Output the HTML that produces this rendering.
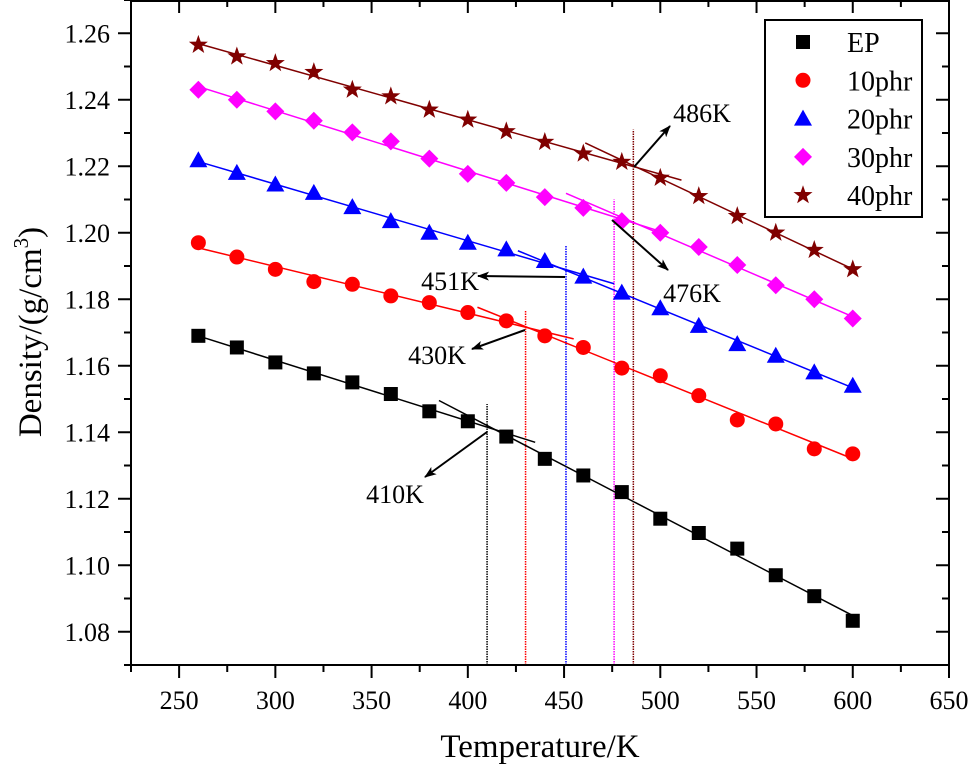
<!DOCTYPE html>
<html><head><meta charset="utf-8"><style>
html,body{margin:0;padding:0;background:#fff;}
svg{display:block;font-family:"Liberation Serif",serif;}
</style></head><body>
<svg id="chart" width="971" height="774" viewBox="0 0 971 774" xmlns="http://www.w3.org/2000/svg"></svg>
<script>
const temps = [260,280,300,320,340,360,380,400,420,440,460,480,500,520,540,560,580,600];
const seriesNames = ["EP","10phr","20phr","30phr","40phr"];
const epVals = [1.169,1.1655,1.161,1.1577,1.155,1.1515,1.1463,1.1433,1.1387,1.132,1.127,1.122,1.114,1.1097,1.105,1.097,1.0907,1.0833];
const phr10Vals = [1.197,1.1927,1.189,1.1853,1.1845,1.181,1.179,1.176,1.1735,1.169,1.1655,1.1593,1.157,1.151,1.1437,1.1425,1.135,1.1335];
const phr20Vals = [1.2218,1.218,1.2145,1.212,1.2077,1.2035,1.2,1.197,1.195,1.1915,1.1868,1.182,1.1773,1.172,1.1665,1.163,1.158,1.154];
const phr30Vals = [1.243,1.24,1.2365,1.2337,1.2302,1.2275,1.2223,1.2177,1.215,1.2107,1.2075,1.2035,1.2,1.1957,1.1903,1.1842,1.18,1.1742];
const phr40Vals = [1.2565,1.253,1.251,1.2483,1.243,1.241,1.237,1.234,1.2305,1.2273,1.2238,1.2213,1.2165,1.211,1.205,1.2,1.1948,1.189];
const tgVals = [410,430,451,476,486];
const tgLineTops = [1.1485,1.1765,1.196,1.21,1.231];
const xTicks = [250,300,350,400,450,500,550,600,650];
const yTicks = [1.08,1.10,1.12,1.14,1.16,1.18,1.20,1.22,1.24,1.26];

const NS="http://www.w3.org/2000/svg";
const svg=document.getElementById('chart');
const L=131,R=949,T=0,B=665,xmin=225,xmax=650,ymin=1.07,ymax=1.27;
const X=v=>L+(v-xmin)/(xmax-xmin)*(R-L);
const Y=v=>B-(v-ymin)/(ymax-ymin)*(B-T);
function el(tag,attrs,parent){const e=document.createElementNS(NS,tag);for(const k in attrs)e.setAttribute(k,attrs[k]);(parent||svg).appendChild(e);return e;}

const defs=el('defs',{});
const mk=el('marker',{id:'ah',markerWidth:'12',markerHeight:'9',refX:'11',refY:'4.5',orient:'auto',markerUnits:'userSpaceOnUse'},defs);
el('path',{d:'M0,0 L12,4.5 L0,9 L3,4.5 Z',fill:'#000'},mk);

const colors=["#000000","#ff0000","#0000ff","#ff00ff","#800000"];
const allVals=[epVals,phr10Vals,phr20Vals,phr30Vals,phr40Vals];

tgVals.forEach((t,i)=>{
  const ln=el('line',{x1:X(t),x2:X(t),y1:B,y2:Y(tgLineTops[i]),stroke:colors[i],'stroke-width':1.5,'stroke-dasharray':'1.5,1'});
  
  
});

function fit(xs,ys){const n=xs.length;let sx=0,sy=0,sxx=0,sxy=0;for(let i=0;i<n;i++){sx+=xs[i];sy+=ys[i];sxx+=xs[i]*xs[i];sxy+=xs[i]*ys[i];}const m=(n*sxy-sx*sy)/(n*sxx-sx*sx);return [m,(sy-m*sx)/n];}

function marker(type,cx,cy,c,g){
  if(type===0) return el('rect',{x:cx-7,y:cy-7,width:14,height:14,fill:c},g);
  if(type===1) return el('circle',{cx:cx,cy:cy,r:7.5,fill:c},g);
  if(type===2) return el('path',{d:`M${cx},${cy-9} L${cx+9},${cy+7} L${cx-9},${cy+7} Z`,fill:c},g);
  if(type===3) return el('path',{d:`M${cx},${cy-9} L${cx+9},${cy} L${cx},${cy+9} L${cx-9},${cy} Z`,fill:c},g);
  let d='';for(let k=0;k<10;k++){const r=k%2?4:10;const a=-Math.PI/2+k*Math.PI/5;d+=(k?'L':'M')+(cx+r*Math.cos(a)).toFixed(2)+','+(cy+r*Math.sin(a)).toFixed(2);}
  return el('path',{d:d+'Z',fill:c},g);
}

allVals.forEach((vals,i)=>{
  const g=el('g',{});
  
  
  const tg=tgVals[i];
  const lx=[],ly=[],hx=[],hy=[];
  temps.forEach((t,j)=>{if(t<tg){lx.push(t);ly.push(vals[j]);}else{hx.push(t);hy.push(vals[j]);}});
  const f1=fit(lx,ly),f2=fit(hx,hy);
  const a1=temps[0],b1=tg+25,a2=tg-25,b2=temps[temps.length-1];
  const l1=el('line',{x1:X(a1),y1:Y(f1[0]*a1+f1[1]),x2:X(b1),y2:Y(f1[0]*b1+f1[1]),stroke:colors[i],'stroke-width':1.5},g);
  
  
  const l2=el('line',{x1:X(a2),y1:Y(f2[0]*a2+f2[1]),x2:X(b2),y2:Y(f2[0]*b2+f2[1]),stroke:colors[i],'stroke-width':1.5},g);
  
  
  temps.forEach((t,j)=>{
    const m=marker(i,X(t),Y(vals[j]),colors[i],g);
    
    
  });
});

const fr=el('rect',{x:L,y:T+1,width:R-L,height:B-T-1,fill:'none',stroke:'#000','stroke-width':2});



for(let v=xmin;v<=xmax;v+=25){
  const major=v%50===0;
  el('line',{x1:X(v),x2:X(v),y1:B,y2:B+(major?13:7),stroke:'#000','stroke-width':2});
  el('line',{x1:X(v),x2:X(v),y1:T,y2:T+(major?13:7),stroke:'#000','stroke-width':2});
}
xTicks.forEach(v=>{
  const t=el('text',{x:X(v),y:709,'text-anchor':'middle','font-size':26});
  t.textContent=v;
  
  
});
for(let k=0;k<=20;k++){
  const v=ymin+k*0.01;const major=k%2===1;
  el('line',{x1:L,x2:L-(major?13:7),y1:Y(v),y2:Y(v),stroke:'#000','stroke-width':2});
  el('line',{x1:R,x2:R-(major?13:7),y1:Y(v),y2:Y(v),stroke:'#000','stroke-width':2});
}
yTicks.forEach(v=>{
  const t=el('text',{x:110,y:Y(v)+9,'text-anchor':'end','font-size':26});
  t.textContent=v.toFixed(2);
  
  
});

const xt=el('text',{x:540,y:757,'text-anchor':'middle','font-size':33});
xt.textContent='Temperature/K';


const yt=el('text',{x:0,y:0,'text-anchor':'middle','font-size':33,transform:'translate(41,332) rotate(-90)'});
yt.innerHTML='Density/(g/cm<tspan dy="-13" font-size="21">3</tspan><tspan dy="13">)</tspan>';



const annLabels=["410K","430K","451K","476K","486K"];
const annText=[[395,503],[437,364],[450,290],[692,302],[702,122]];
const annArrow=[[487,432,425,477],[525,330,472,349],[565,277,478,276],[612,220,668,270],[634,167,670,126]];
annLabels.forEach((s,i)=>{
  const a=el('line',{x1:annArrow[i][0],y1:annArrow[i][1],x2:annArrow[i][2],y2:annArrow[i][3],stroke:'#000','stroke-width':2,'marker-end':'url(#ah)'});
  
  
  const t=el('text',{x:annText[i][0],y:annText[i][1],'text-anchor':'middle','font-size':26});
  t.textContent=s;
  
  
});

const lg=el('g',{});


el('rect',{x:765,y:20,width:157,height:197,fill:'#fff',stroke:'#000','stroke-width':2},lg);
seriesNames.forEach((s,i)=>{
  const cy=42+i*38.3;
  const g=el('g',{},lg);
  
  
  marker(i,803,cy,colors[i],g);
  const t=el('text',{x:847,y:cy+10,'font-size':28},g);
  t.textContent=s;
});
</script>
</body></html>
